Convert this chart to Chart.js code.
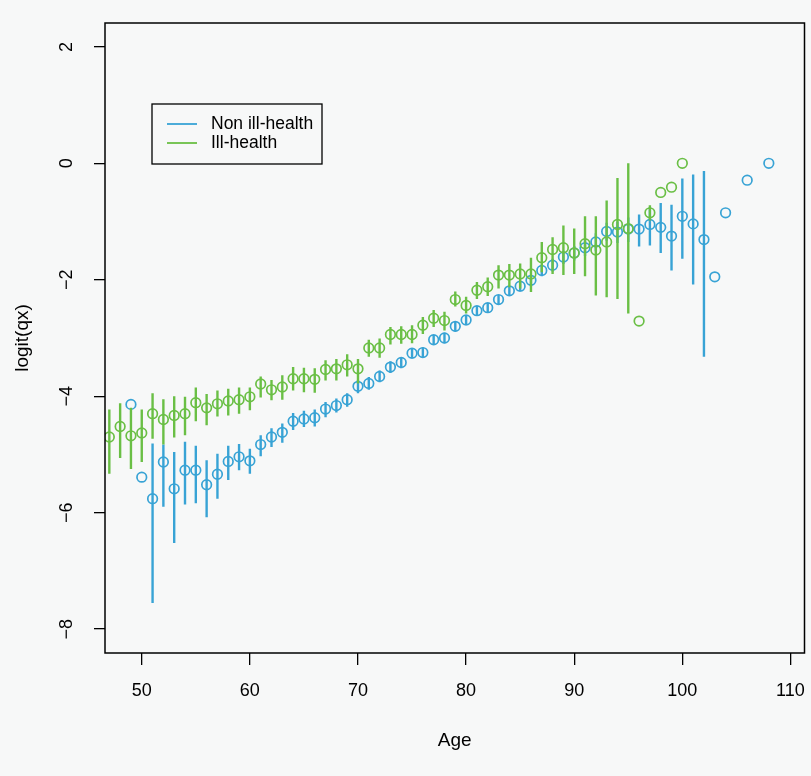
<!DOCTYPE html>
<html>
<head>
<meta charset="utf-8">
<script src="https://cdn.jsdelivr.net/npm/chart.js@4.4.1/dist/chart.umd.min.js"></script>
<style>
  body { margin: 0; background: #f7f8f8; }
  #wrap { width: 811px; height: 776px; }
</style>
</head>
<body>
<div id="wrap"><canvas id="grafik" width="811" height="776"></canvas></div>
<script>
// Non ill-health (blue)
const agesNon = [49, 50, 51, 52, 53, 54, 55, 56, 57, 58, 59, 60, 61, 62, 63, 64, 65, 66, 67, 68, 69, 70,
  71, 72, 73, 74, 75, 76, 77, 78, 79, 80, 81, 82, 83, 84, 85, 86, 87, 88, 89, 90,
  91, 92, 93, 94, 95, 96, 97, 98, 99, 100, 101, 102, 103, 104, 106, 108];
const qxNon = [-4.14, -5.39, -5.76, -5.13, -5.59, -5.27, -5.27, -5.52, -5.34, -5.12, -5.04, -5.11,
  -4.83, -4.70, -4.62, -4.43, -4.39, -4.37, -4.22, -4.16, -4.06, -3.83,
  -3.78, -3.66, -3.50, -3.42, -3.26, -3.25, -3.03, -3.00, -2.80, -2.69,
  -2.53, -2.48, -2.34, -2.19, -2.11, -2.01, -1.84, -1.75, -1.61, -1.54,
  -1.45, -1.35, -1.17, -1.18, -1.13, -1.13, -1.05, -1.10, -1.25, -0.91,
  -1.04, -1.31, -1.95, -0.85, -0.29, 0.00];
const hiNon = [null, null, -4.81, -4.83, -4.96, -4.78, -4.85, -5.10, -4.99, -4.85, -4.82, -4.90,
  -4.67, -4.55, -4.47, -4.29, -4.25, -4.23, -4.10, -4.04, -3.95, -3.72,
  -3.67, -3.56, -3.40, -3.33, -3.17, -3.16, -2.95, -2.91, -2.72, -2.61,
  -2.45, -2.40, -2.26, -2.11, -2.02, -1.92, -1.74, -1.64, -1.50, -1.42,
  -1.32, -1.20, -1.02, -1.00, -0.93, -0.88, -0.75, -0.68, -0.71, -0.26,
  -0.19, -0.13, null, null, null, null];
const loNon = [null, null, -7.55, -5.90, -6.52, -5.86, -5.84, -6.08, -5.76, -5.44, -5.27, -5.33,
  -5.03, -4.87, -4.80, -4.58, -4.53, -4.52, -4.36, -4.28, -4.18, -3.95,
  -3.89, -3.76, -3.60, -3.52, -3.35, -3.34, -3.12, -3.09, -2.89, -2.78,
  -2.62, -2.57, -2.43, -2.28, -2.20, -2.11, -1.94, -1.86, -1.73, -1.67,
  -1.59, -1.51, -1.33, -1.37, -1.35, -1.43, -1.41, -1.54, -1.84, -1.64,
  -2.08, -3.32, null, null, null, null];

// Ill-health (green)
const agesIll = [47, 48, 49, 50, 51, 52, 53, 54, 55, 56, 57, 58, 59, 60, 61, 62, 63, 64, 65, 66, 67, 68,
  69, 70, 71, 72, 73, 74, 75, 76, 77, 78, 79, 80, 81, 82, 83, 84, 85, 86, 87, 88,
  89, 90, 91, 92, 93, 94, 95, 96, 97, 98, 99, 100];
const qxIll = [-4.70, -4.52, -4.68, -4.63, -4.30, -4.40, -4.33, -4.30, -4.11, -4.20, -4.13, -4.08,
  -4.06, -4.01, -3.79, -3.89, -3.84, -3.70, -3.70, -3.71, -3.54, -3.53,
  -3.46, -3.53, -3.17, -3.17, -2.94, -2.94, -2.94, -2.78, -2.66, -2.70,
  -2.34, -2.44, -2.18, -2.12, -1.92, -1.92, -1.90, -1.90, -1.62, -1.48,
  -1.45, -1.54, -1.38, -1.49, -1.35, -1.05, -1.12, -2.71, -0.85, -0.50, -0.41, 0.00];
const hiIll = [-4.23, -4.12, -4.20, -4.23, -3.95, -4.05, -4.00, -4.01, -3.85, -3.96, -3.90, -3.87,
  -3.85, -3.85, -3.66, -3.72, -3.64, -3.50, -3.51, -3.52, -3.38, -3.36,
  -3.28, -3.36, -3.03, -3.01, -2.81, -2.80, -2.78, -2.64, -2.52, -2.55,
  -2.20, -2.29, -2.04, -1.96, -1.75, -1.73, -1.72, -1.62, -1.35, -1.27,
  -1.07, -1.12, -0.91, -0.91, -0.64, -0.25, 0.00, null, -0.72, null, null, null];
const loIll = [-5.33, -5.06, -5.25, -5.13, -4.73, -4.83, -4.71, -4.67, -4.43, -4.50, -4.35, -4.33,
  -4.30, -4.24, -4.02, -4.07, -4.06, -3.90, -3.93, -3.94, -3.73, -3.73,
  -3.66, -3.78, -3.32, -3.34, -3.11, -3.10, -3.09, -2.93, -2.81, -2.87,
  -2.46, -2.58, -2.33, -2.28, -2.15, -2.13, -2.15, -2.21, -1.87, -1.90,
  -1.92, -1.90, -1.94, -2.27, -2.30, -2.33, -2.58, null, -0.98, null, null, null];

const xTicks = [50, 60, 70, 80, 90, 100, 110];
const yTicks = [-8, -6, -4, -2, 0, 2];

const MAVI = "#38a3d5";
const YESIL = "#6abf45";
const FONT = "'Liberation Sans', Arial, sans-serif";

function noktalar(ages, vals) {
    return ages.map((a, i) => ({ x: a, y: vals[i] }));
}

// each interval becomes a short line segment, separated by a null gap
function cizgiler(ages, lo, hi) {
    const out = [];
    ages.forEach((a, i) => {
        if (lo[i] === null || hi[i] === null) return;
        out.push({ x: a, y: hi[i] });
        out.push({ x: a, y: lo[i] });
        out.push({ x: a, y: null });
    });
    return out;
}

const cerceve = {
    id: "cerceve",
    afterDraw(chart) {
        const { ctx, chartArea: a } = chart;
        ctx.save();
        ctx.strokeStyle = "#000";
        ctx.lineWidth = 1.5;
        ctx.strokeRect(a.left, a.top, a.right - a.left, a.bottom - a.top);

        // legend box
        const bx = a.left + 47, by = a.top + 81, bw = 170, bh = 60;
        ctx.lineWidth = 1.3;
        ctx.strokeRect(bx, by, bw, bh);
        const items = [["Non ill-health", MAVI], ["Ill-health", YESIL]];
        ctx.font = "17.5px " + FONT;
        ctx.textBaseline = "middle";
        ctx.fillStyle = "#000";
        items.forEach((it, i) => {
            const y = by + 20 + i * 19;
            ctx.strokeStyle = it[1];
            ctx.lineWidth = 1.8;
            ctx.beginPath();
            ctx.moveTo(bx + 15, y);
            ctx.lineTo(bx + 45, y);
            ctx.stroke();
            ctx.fillText(it[0], bx + 59, y);
        });
        ctx.restore();
    }
};

const eksiIsaret = v => String(v).replace("-", "\u2212");

function xSigdir(s) {
    s.height = 123;
    s.paddingLeft = 0;
    s.paddingRight = 0;
}

function ySigdir(s) {
    s.width = 105;
    s.paddingTop = 0;
    s.paddingBottom = 0;
}

new Chart(document.getElementById("grafik"), {
    type: "scatter",
    data: {
        datasets: [
            {
                label: "Non ill-health bars",
                data: cizgiler(agesNon, loNon, hiNon),
                showLine: true,
                spanGaps: false,
                borderColor: MAVI,
                borderWidth: 2.4,
                pointRadius: 0,
                order: 4
            },
            {
                label: "Non ill-health",
                data: noktalar(agesNon, qxNon),
                borderColor: MAVI,
                backgroundColor: "rgba(0,0,0,0)",
                borderWidth: 1.7,
                pointRadius: 4.8,
                order: 3
            },
            {
                label: "Ill-health bars",
                data: cizgiler(agesIll, loIll, hiIll),
                showLine: true,
                spanGaps: false,
                borderColor: YESIL,
                borderWidth: 2.4,
                pointRadius: 0,
                order: 2
            },
            {
                label: "Ill-health",
                data: noktalar(agesIll, qxIll),
                borderColor: YESIL,
                backgroundColor: "rgba(0,0,0,0)",
                borderWidth: 1.7,
                pointRadius: 4.8,
                order: 1
            }
        ]
    },
    options: {
        responsive: false,
        animation: false,
        events: [],
        layout: { padding: { top: 23, right: 4, left: 0, bottom: 0 } },
        plugins: { legend: { display: false }, tooltip: { enabled: false } },
        scales: {
            x: {
                type: "linear",
                min: 46.6,
                max: 111.3,
                afterFit: xSigdir,
                afterBuildTicks: s => { s.ticks = xTicks.map(v => ({ value: v })); },
                grid: { drawOnChartArea: false, drawTicks: true, tickLength: 12, color: "#000", lineWidth: 1.3 },
                border: { display: false },
                ticks: { color: "#000", font: { size: 18, family: FONT }, padding: 15, maxRotation: 0 },
                title: { display: true, text: "Age", color: "#000", font: { size: 19, family: FONT }, padding: { top: 0, bottom: 24 } }
            },
            y: {
                type: "linear",
                min: -8.41,
                max: 2.41,
                afterFit: ySigdir,
                afterBuildTicks: s => { s.ticks = yTicks.map(v => ({ value: v })); },
                grid: { drawOnChartArea: false, drawTicks: true, tickLength: 11, color: "#000", lineWidth: 1.3 },
                border: { display: false },
                ticks: {
                    color: "#000",
                    font: { size: 18, family: FONT },
                    padding: 17,
                    minRotation: 90,
                    maxRotation: 90,
                    crossAlign: "center",
                    callback: eksiIsaret
                },
                title: { display: true, text: "logit(qx)", color: "#000", font: { size: 19, family: FONT }, padding: { top: 11, bottom: 0 } }
            }
        }
    },
    plugins: [cerceve]
});
</script>
</body>
</html>
